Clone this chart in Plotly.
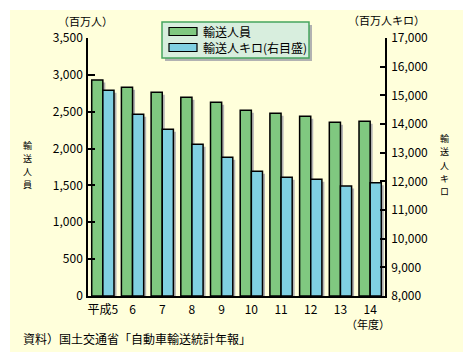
import plotly.graph_objects as go

# ---- data ----
years = ["平成5", "6", "7", "8", "9", "10", "11", "12", "13", "14"]
passengers = [2930, 2831, 2763, 2695, 2628, 2519, 2478, 2438, 2356, 2370]      # 百万人 (left)
passenger_km = [15175, 14338, 13815, 13292, 12838, 12350, 12140, 12071, 11837, 11952]  # 百万人キロ (right)
name_a = "輸送人員"
name_b = "輸送人キロ(右目盛)"
left_title = "輸送人員"
right_title = "輸送人キロ"
left_ticks = list(range(0, 3501, 500))
right_ticks = list(range(8000, 17001, 1000))

# ---- geometry (pixels, reference frame) ----
W, H = 473, 362
PAGE_OFF = 8  # default body margin of the html page
L, R, T, B = 88, 385, 38, 296
FONT = "Noto Sans CJK JP"
GREEN = "rgb(128,200,128)"
BLUE = "rgb(128,208,226)"
BG = "rgb(255,255,219)"
SHADOW = "rgb(178,178,178)"


def px(x):
    return (x - L) / (R - L)


def py(y):
    return (B - y) / (B - T)


cat_px = (R - L) / len(years)
bw = 0.375
sx = 2.5 / cat_px
dy_left = 3500 / (B - T) * 2.5
dy_right = 9000 / (B - T) * 2.5

fig = go.Figure()
# shadows + bars
fig.add_trace(go.Bar(x=years, y=[v - dy_left for v in passengers], width=bw, offset=-bw + sx,
                     marker=dict(color=SHADOW, line=dict(width=0)), yaxis="y", showlegend=False,
                     hoverinfo="skip"))
fig.add_trace(go.Bar(x=years, y=passengers, width=bw, offset=-bw, name=name_a,
                     marker=dict(color=GREEN, line=dict(color="black", width=1.5)), yaxis="y",
                     showlegend=False))
fig.add_trace(go.Bar(x=years, y=[v - 8000 - dy_right for v in passenger_km], width=bw, offset=sx,
                     base=8000, marker=dict(color=SHADOW, line=dict(width=0)), yaxis="y2",
                     showlegend=False, hoverinfo="skip"))
fig.add_trace(go.Bar(x=years, y=[v - 8000 for v in passenger_km], base=8000, width=bw, offset=0,
                     name=name_b, customdata=passenger_km, hovertemplate="%{customdata:,}",
                     marker=dict(color=BLUE, line=dict(color="black", width=1.5)), yaxis="y2",
                     showlegend=False))

shapes = [
    dict(type="rect", xref="paper", yref="paper", x0=px(10), x1=px(463), y0=py(352), y1=py(10),
         fillcolor=BG, line=dict(width=0), layer="below"),
    # legend shadow and box
    dict(type="rect", xref="paper", yref="paper", x0=px(165), x1=px(312), y0=py(61), y1=py(25),
         fillcolor=SHADOW, line=dict(width=0)),
    dict(type="rect", xref="paper", yref="paper", x0=px(162), x1=px(309), y0=py(58), y1=py(22),
         fillcolor="rgb(216,238,222)", line=dict(color="rgb(70,165,95)", width=1.5)),
    dict(type="rect", xref="paper", yref="paper", x0=px(169), x1=px(197), y0=py(35.5), y1=py(27.5),
         fillcolor=GREEN, line=dict(color="black", width=1.2)),
    dict(type="rect", xref="paper", yref="paper", x0=px(169), x1=px(197), y0=py(51.5), y1=py(43.5),
         fillcolor=BLUE, line=dict(color="black", width=1.2)),
]

f12 = dict(family=FONT, size=12, color="black")
f11 = dict(family=FONT, size=11, color="black")
f9 = dict(family=FONT, size=9, color="black")
annotations = [
    dict(text=name_a, x=px(201), y=py(31.5), xanchor="left", yanchor="middle"),
    dict(text=name_b, x=px(201), y=py(47.5), xanchor="left", yanchor="middle"),
    dict(text="（百万人）", x=px(85), y=py(20.5), xanchor="center", yanchor="middle", font=f11),
    dict(text="（百万人キロ）", x=px(386), y=py(20), xanchor="center", yanchor="middle", font=f11),
    dict(text="（年度）", x=px(368), y=py(324), xanchor="center", yanchor="middle", font=f11),
    dict(text="資料）国土交通省「自動車輸送統計年報」", x=px(21), y=py(338), xanchor="left",
         yanchor="middle"),
]
step = 13.2
for i, ch in enumerate(left_title):
    annotations.append(dict(text=ch, x=px(27.5),
                            y=py(165 + (i - (len(left_title) - 1) / 2) * step),
                            xanchor="center", yanchor="middle", font=f9))
for i, ch in enumerate(right_title):
    annotations.append(dict(text=ch, x=px(444),
                            y=py(165 + (i - (len(right_title) - 1) / 2) * step),
                            xanchor="center", yanchor="middle", font=f9))
for a in annotations:
    a.update(xref="paper", yref="paper", showarrow=False)
    a.setdefault("font", f12)

fig.update_layout(
    width=W - PAGE_OFF, height=H - PAGE_OFF,
    margin=dict(l=L - PAGE_OFF, r=W - R, t=T - PAGE_OFF, b=H - B, pad=0),
    paper_bgcolor="white", plot_bgcolor="rgba(0,0,0,0)",
    font=f12, showlegend=False, barmode="overlay",
    shapes=shapes, annotations=annotations,
    xaxis=dict(type="category", showline=True, linecolor="black", linewidth=1.5,
               ticks="", showgrid=False, zeroline=False, tickfont=f12, range=[-0.5, 9.5],
               ticklabelstandoff=2),
    yaxis=dict(range=[0, 3500], tickvals=left_ticks, ticktext=[f"{v:,}" for v in left_ticks],
               ticks="inside", ticklen=7, tickwidth=1.5, tickcolor="black",
               showline=True, linecolor="black", linewidth=1.5, showgrid=False, zeroline=False,
               tickfont=f12, ticklabelstandoff=1),
    yaxis2=dict(range=[8000, 17000], tickvals=right_ticks, ticktext=[f"{v:,}" for v in right_ticks],
                overlaying="y", side="right", ticks="inside", ticklen=5, tickwidth=1.5,
                tickcolor="black", showline=True, linecolor="black", linewidth=1.5,
                showgrid=False, zeroline=False, tickfont=f12, ticklabelstandoff=2),
)

fig.write_html("out.html")
